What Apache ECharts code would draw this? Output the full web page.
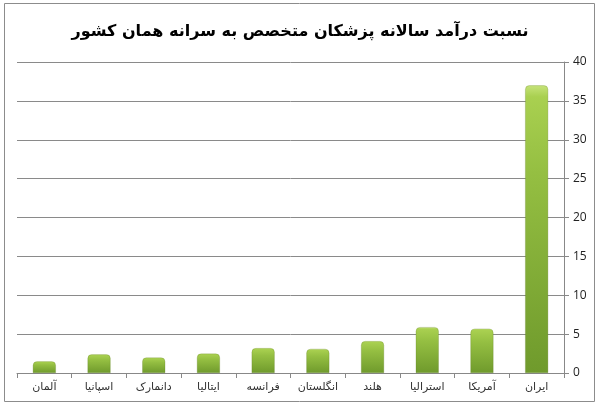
<!DOCTYPE html>
<html>
<head>
<meta charset="utf-8">
<script src="https://cdn.jsdelivr.net/npm/echarts@6/dist/echarts.min.js"></script>
<style>
html,body{margin:0;padding:0;background:#fff;}
#c{width:600px;height:407px;}
</style>
</head>
<body>
<div id="c"></div>
<script>
var titleText = 'نسبت درآمد سالانه پزشکان متخصص به سرانه همان کشور';
var categories = ['آلمان','اسپانیا','دانمارک','ایتالیا','فرانسه','انگلستان','هلند','استرالیا','آمریکا','ایران'];
var values = [1.5, 2.4, 2.0, 2.5, 3.2, 3.1, 4.1, 5.9, 5.7, 37.0];
var yTicks = [0, 5, 10, 15, 20, 25, 30, 35, 40];

var chart = echarts.init(document.getElementById('c'), null, {renderer:'canvas'});
chart.setOption({
  animation: false,
  backgroundColor: '#fff',
  title: {
    text: titleText,
    left: 'center',
    top: 19,
    textStyle: {fontFamily: 'DejaVu Sans', fontWeight: 'bold', fontSize: 16, color: '#000'}
  },
  graphic: [{
    type: 'rect', shape: {x: 4.5, y: 3.5, width: 590, height: 398},
    style: {fill: 'none', stroke: '#8c8c8c', lineWidth: 1}, silent: true, z: -1
  }],
  grid: {left: 17, right: 36, top: 62, bottom: 34},
  xAxis: {
    type: 'category',
    data: categories,
    boundaryGap: true,
    axisLine: {show: true, lineStyle: {color: '#888', width: 1}},
    axisTick: {show: true, alignWithLabel: false, length: 5, lineStyle: {color: '#888'}},
    axisLabel: {fontFamily: 'DejaVu Sans', fontSize: 11, color: '#333', margin: 9, interval: 0}
  },
  yAxis: {
    type: 'value',
    position: 'right',
    min: yTicks[0], max: yTicks[yTicks.length-1], interval: 5,
    axisLine: {show: true, lineStyle: {color: '#888', width: 1}},
    axisTick: {show: true, length: 5, lineStyle: {color: '#888'}},
    axisLabel: {fontFamily: 'Open Sans', fontSize: 12, color: '#222', margin: 9},
    splitLine: {show: true, lineStyle: {color: '#8a8a8a', width: 1}}
  },
  series: [{
    type: 'bar',
    data: values,
    barWidth: 23,
    itemStyle: {
      borderRadius: [4, 4, 0, 0],
      color: {
        type: 'linear', x: 0, y: 0, x2: 0, y2: 1,
        colorStops: [
          {offset: 0, color: '#c6e37a'},
          {offset: 0.04, color: '#a9d050'},
          {offset: 0.3, color: '#95bf42'},
          {offset: 1, color: '#6f9a2c'}
        ]
      },
      borderColor: 'rgba(90,120,30,0.5)',
      borderWidth: 0.5
    }
  }]
});
</script>
</body>
</html>
